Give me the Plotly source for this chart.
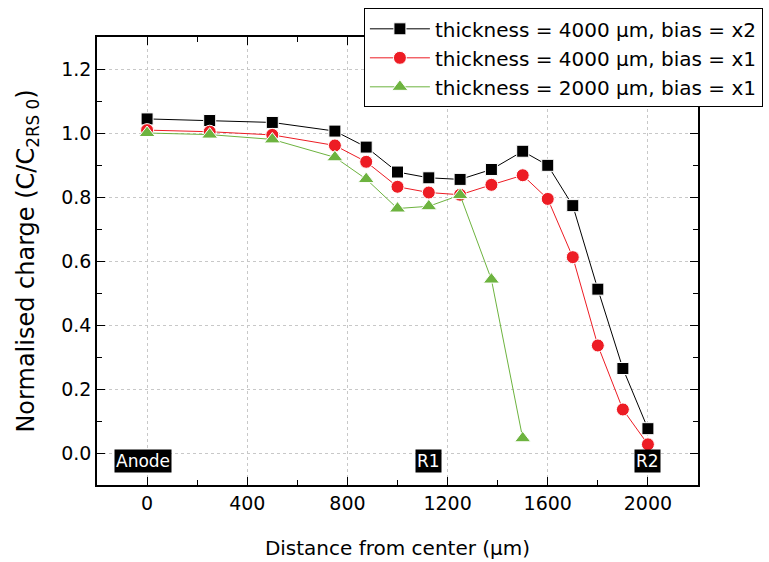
import plotly.graph_objects as go

dist_4000 = [0, 250, 500, 750, 875, 1000, 1125, 1250, 1375, 1500, 1600, 1700, 1800, 1900, 2000]
charge_4000_x2 = [1.044, 1.039, 1.033, 1.006, 0.956, 0.878, 0.860, 0.855, 0.886, 0.943, 0.899, 0.773, 0.512, 0.264, 0.076]
charge_4000_x1 = [1.009, 1.004, 0.994, 0.961, 0.910, 0.832, 0.814, 0.807, 0.838, 0.868, 0.794, 0.612, 0.336, 0.136, 0.027]
dist_2000 = [0, 250, 500, 750, 875, 1000, 1125, 1250, 1375, 1500]
charge_2000_x1 = [1.0, 0.995, 0.980, 0.924, 0.856, 0.764, 0.771, 0.806, 0.542, 0.046]

names = ["thickness = 4000 \u03bcm, bias = x2",
         "thickness = 4000 \u03bcm, bias = x1",
         "thickness = 2000 \u03bcm, bias = x1"]
region_labels = ["Anode", "R1", "R2"]
region_x = [-15, 1125, 2000]

FONT = "DejaVu Sans, Liberation Sans, sans-serif"

fig = go.Figure()
fig.add_trace(go.Scatter(x=dist_4000, y=charge_4000_x2, name=names[0], mode="lines+markers",
                         line=dict(color="black", width=1),
                         marker=dict(symbol="square", size=12, color="black",
                                     line=dict(color="white", width=1))))
fig.add_trace(go.Scatter(x=dist_4000, y=charge_4000_x1, name=names[1], mode="lines+markers",
                         line=dict(color="#ED1C24", width=1),
                         marker=dict(symbol="circle", size=13, color="#ED1C24",
                                     line=dict(color="white", width=1))))
fig.add_trace(go.Scatter(x=dist_2000, y=charge_2000_x1, name=names[2], mode="lines+markers",
                         line=dict(color="#6DB33F", width=1),
                         marker=dict(symbol="triangle-up", size=14, color="#6DB33F",
                                     line=dict(color="white", width=1))))

for lab, xv in zip(region_labels, region_x):
    fig.add_annotation(x=xv, y=-0.025, text=lab, showarrow=False,
                       font=dict(color="white", size=17, family=FONT),
                       bgcolor="black", borderpad=1, xref="x", yref="y")

fig.update_layout(
    width=769, height=562,
    margin=dict(l=97, r=71, t=37, b=77, autoexpand=False),
    paper_bgcolor="white", plot_bgcolor="white",
    font=dict(family=FONT, color="black"),
    legend=dict(x=1.108, y=1.064, xanchor="right", yanchor="top",
                bgcolor="white", bordercolor="black", borderwidth=1,
                font=dict(size=20, family=FONT), itemwidth=60,
                tracegroupgap=0),
    xaxis=dict(range=[-200, 2200], tickvals=[0, 400, 800, 1200, 1600, 2000],
               ticks="inside", ticklen=8, tickwidth=1, tickcolor="black",
               showline=True, linecolor="black", linewidth=1.5, mirror="allticks",
               showgrid=True, gridcolor="#c8c8c8", griddash="dot", gridwidth=1,
               zeroline=False, tickfont=dict(size=19),
               minor=dict(dtick=200, tick0=0, ticks="inside", ticklen=5, tickcolor="black", showgrid=False),
               title=dict(text="Distance from center (\u03bcm)", font=dict(size=20), standoff=28)),
    yaxis=dict(range=[-0.1, 1.3], tickvals=[0, 0.2, 0.4, 0.6, 0.8, 1.0, 1.2],
               tickformat=".1f",
               ticks="inside", ticklen=8, tickwidth=1, tickcolor="black",
               showline=True, linecolor="black", linewidth=1.5, mirror="allticks",
               showgrid=True, gridcolor="#c8c8c8", griddash="dot", gridwidth=1,
               zeroline=False, tickfont=dict(size=19),
               minor=dict(dtick=0.1, tick0=0, ticks="inside", ticklen=5, tickcolor="black", showgrid=False),
               title=dict(text="Normalised charge (C/C<sub>2RS 0</sub>)", font=dict(size=24), standoff=20)),
)

fig.write_html("out.html")
